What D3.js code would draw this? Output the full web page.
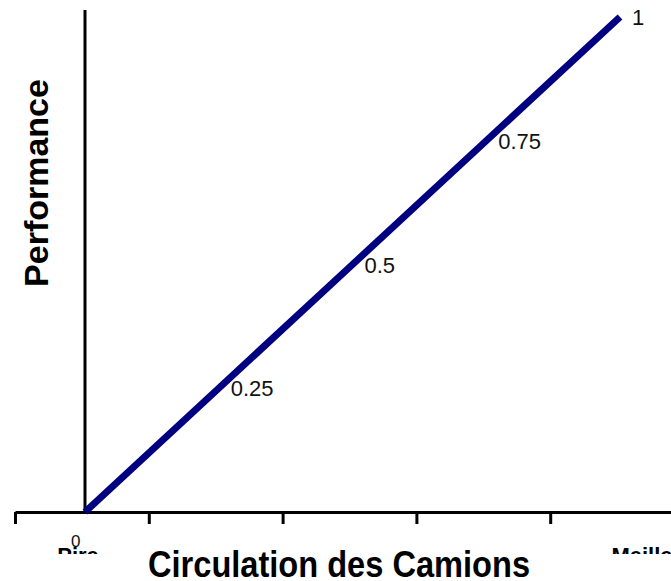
<!DOCTYPE html>
<html lang="fr">
<head>
<meta charset="UTF-8">
<title>Performance - Circulation des Camions</title>
<style>
  body { margin: 0; background: #fff; }
  svg { display: block; }
</style>
</head>
<body>
<div class="chart"></div>
<script src="https://d3js.org/d3.v7.min.js"></script>
<script>
// performance values along the line (x == y)
var perfValues = [0, 0.25, 0.5, 0.75, 1];
var valueLabels = ["0", "0.25", "0.5", "0.75", "1"];
// category labels under the horizontal axis
var categories = ["Pire", "Meilleur"];
// tick positions on the horizontal axis (band edges)
var tickSteps = [0, 1, 2, 3, 4, 5];

var width = 671, height = 581;

var svg = d3.select(".chart").append("svg")
    .attr("width", width)
    .attr("height", height);

var x = d3.scaleLinear().domain([0, 1]).range([85, 620]);
var y = d3.scaleLinear().domain([0, 1]).range([512, 17]);
var tickScale = d3.scaleLinear().domain([0, 5]).range([15, 684]);
var catScale = d3.scalePoint().domain(categories).range([78, 653]);

// horizontal axis with ticks
var xAxis = d3.axisBottom(tickScale)
    .tickValues(tickSteps)
    .tickFormat("")
    .tickSizeInner(12)
    .tickSizeOuter(0);

var gx = svg.append("g")
    .attr("transform", "translate(0,512)")
    .call(xAxis);
gx.select(".domain").attr("stroke", "#000").attr("stroke-width", 3);
gx.selectAll(".tick line").attr("stroke", "#000").attr("stroke-width", 3);

// vertical axis
svg.append("line")
    .attr("x1", x(0)).attr("x2", x(0))
    .attr("y1", 10).attr("y2", y(0))
    .attr("stroke", "#000")
    .attr("stroke-width", 3);

// the performance line
var line = d3.line()
    .x(function(d) { return x(d); })
    .y(function(d) { return y(d); });

svg.append("path")
    .datum(perfValues)
    .attr("d", line)
    .attr("fill", "none")
    .attr("stroke", "#000080")
    .attr("stroke-width", 7);

// value labels next to the line
svg.selectAll("text.val")
    .data(perfValues)
    .enter().append("text")
    .attr("class", "val")
    .attr("x", function(d, i) { return i === 0 ? x(d) - 14 : x(d) + 12; })
    .attr("y", function(d, i) { return i === 0 ? y(d) + 35 : y(d) + 8; })
    .attr("font-family", "Liberation Sans, Arial, sans-serif")
    .attr("font-size", function(d, i) { return i === 0 ? 17 : 22; })
    .attr("fill", "#111")
    .text(function(d, i) { return valueLabels[i]; });

// category labels, cut off at the bottom like the original
svg.append("clipPath").attr("id", "catclip")
    .append("rect").attr("x", 0).attr("y", 0).attr("width", width).attr("height", 554);

svg.append("g").attr("clip-path", "url(#catclip)")
    .selectAll("text")
    .data(categories)
    .enter().append("text")
    .attr("x", function(d) { return catScale(d); })
    .attr("y", 563)
    .attr("text-anchor", "middle")
    .attr("font-family", "Liberation Sans, Arial, sans-serif")
    .attr("font-weight", "bold")
    .attr("font-size", 22)
    .text(function(d) { return d; });

// axis titles
svg.append("text")
    .attr("x", 148)
    .attr("y", 577)
    .attr("textLength", 382)
    .attr("lengthAdjust", "spacingAndGlyphs")
    .attr("font-family", "Liberation Sans, Arial, sans-serif")
    .attr("font-weight", "bold")
    .attr("font-size", 37)
    .text("Circulation des Camions");

svg.append("text")
    .attr("transform", "translate(48,183) rotate(-90)")
    .attr("text-anchor", "middle")
    .attr("font-family", "Liberation Sans, Arial, sans-serif")
    .attr("font-weight", "bold")
    .attr("font-size", 34)
    .text("Performance");
</script>
</body>
</html>
